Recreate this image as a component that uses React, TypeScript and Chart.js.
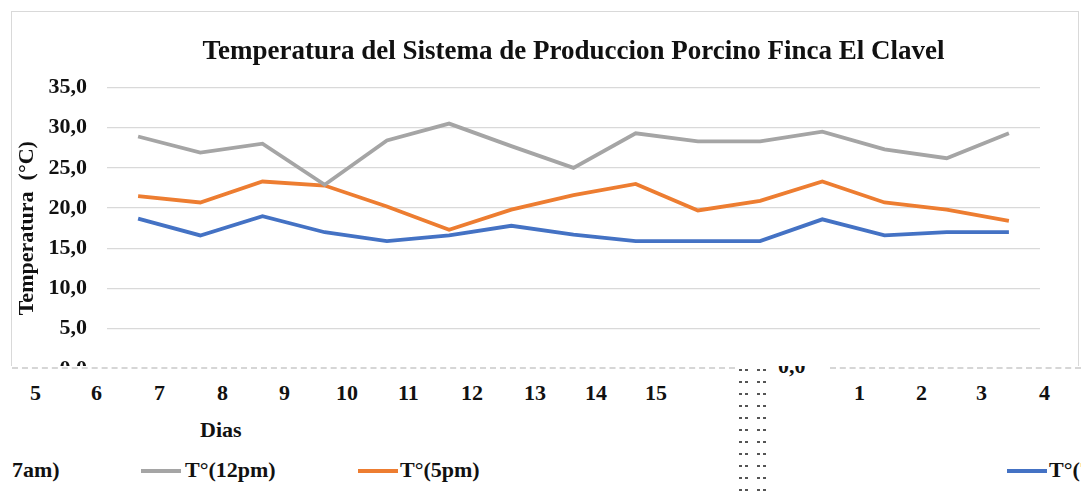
import React, { useEffect, useRef } from "react";
import { Chart, registerables } from "chart.js";

Chart.register(...registerables);

// ---- data ----
const days = ["1", "2", "3", "4", "5", "6", "7", "8", "9", "10", "11", "12", "13", "14", "15"];
const t7am = [18.7, 16.6, 19.0, 17.0, 15.9, 16.6, 17.8, 16.7, 15.9, 15.9, 15.9, 18.6, 16.6, 17.0, 17.0];
const t12pm = [28.9, 26.9, 28.0, 22.9, 28.4, 30.5, 27.7, 25.0, 29.3, 28.3, 28.3, 29.5, 27.3, 26.2, 29.3];
const t5pm = [21.5, 20.7, 23.3, 22.8, 20.2, 17.3, 19.8, 21.6, 23.0, 19.7, 20.9, 23.3, 20.7, 19.8, 18.4];
const yMin = 0;
const yMax = 35;
const yStep = 5;
const seriesNames = ["T°(7am)", "T°(12pm)", "T°(5pm)"];
const seriesColors = ["#4472C4", "#A5A5A5", "#ED7D31"];
// the reference's bottom strip is wrapped: days 5..15 on the left, 1..4 on the right
const wrappedLeftDays = days.slice(4);
const wrappedRightDays = days.slice(0, 4);

const SERIF = '"Liberation Serif", "Times New Roman", serif';

export default function App() {
  const canvasRef = useRef<HTMLCanvasElement | null>(null);

  useEffect(() => {
    document.body.style.margin = "0";
    const canvas = canvasRef.current;
    if (!canvas) return;
    const chart = new Chart(canvas, {
      type: "line",
      data: {
        labels: days,
        datasets: [
          { label: seriesNames[0], data: t7am, borderColor: seriesColors[0], backgroundColor: seriesColors[0] },
          { label: seriesNames[1], data: t12pm, borderColor: seriesColors[1], backgroundColor: seriesColors[1] },
          { label: seriesNames[2], data: t5pm, borderColor: seriesColors[2], backgroundColor: seriesColors[2] },
        ].map((d) => ({ ...d, borderWidth: 3.8, pointRadius: 0, tension: 0, fill: false })),
      },
      options: {
        animation: false,
        responsive: true,
        maintainAspectRatio: false,
        layout: { padding: { left: 12, top: 12, right: 41, bottom: 125 } },
        plugins: {
          legend: { display: false },
          tooltip: { enabled: false },
          title: {
            display: true,
            fullSize: false,
            text: "Temperatura del Sistema de Produccion Porcino Finca El Clavel",
            color: "#111",
            font: { family: SERIF, size: 27, weight: "bold", lineHeight: 1.2 },
            padding: { top: 24, bottom: 19 },
          },
        },
        scales: {
          x: {
            type: "category",
            offset: true,
            grid: { display: false },
            border: { display: false },
            ticks: { display: false },
          },
          y: {
            min: yMin,
            max: yMax,
            afterFit: (s: any) => {
              s.width = 95;
            },
            ticks: {
              stepSize: yStep,
              padding: 20,
              color: "#111",
              font: { family: SERIF, size: 22, weight: "bold" },
              callback: (v: any) => Number(v).toFixed(1).replace(".", ","),
            },
            grid: { color: "#d9d9d9", lineWidth: 1.3, drawTicks: false },
            border: { display: false },
            title: {
              display: true,
              text: "Temperatura  (°C)",
              color: "#111",
              font: { family: SERIF, size: 22, weight: "bold", lineHeight: 1.2 },
              padding: { top: 2, bottom: 0 },
            },
          },
        },
      },
    });
    return () => chart.destroy();
  }, []);

  const txt: React.CSSProperties = {
    position: "absolute",
    fontFamily: SERIF,
    fontWeight: "bold",
    fontSize: 22,
    color: "#111",
    lineHeight: "24px",
    whiteSpace: "nowrap",
  };
  const leftXs = [30, 91, 154, 217, 279, 336, 398, 461, 524, 585, 645];
  const rightXs = [854, 916, 976, 1039];
  const dashRows = Array.from({ length: 11 }, (_, i) => i);

  return (
    <div style={{ position: "relative", width: 1081, height: 502, background: "#fff", overflow: "hidden" }}>
      <div
        style={{
          position: "absolute",
          left: 11,
          top: 11,
          width: 1066,
          height: 380,
          border: "1.5px solid #d9d9d9",
        }}
      />
      <div style={{ position: "absolute", left: 0, top: 0, width: 1081, height: 502 }}>
        <canvas ref={canvasRef} />
      </div>
      {/* wrapped / cut bottom strip as in the reference */}
      <div
        style={{
          position: "absolute",
          left: 0,
          top: 366,
          width: 1081,
          height: 136,
          background: "#fff",
        }}
      >
        <div style={{ position: "absolute", left: 12, top: 1, width: 723, borderTop: "2px dashed #d6d6d6" }} />
        <div style={{ position: "absolute", left: 830, top: 1, width: 251, borderTop: "2px dashed #d6d6d6" }} />
        {dashRows.map((r) => (
          <React.Fragment key={"d" + r}>
            <div style={{ position: "absolute", left: 739, top: 3 + r * 12, width: 3, height: 1.5, background: "#555" }} />
            <div style={{ position: "absolute", left: 745, top: 3 + r * 12, width: 3, height: 1.5, background: "#555" }} />
            <div style={{ position: "absolute", left: 757, top: 3 + r * 12, width: 3, height: 1.5, background: "#555" }} />
            <div style={{ position: "absolute", left: 763, top: 3 + r * 12, width: 3, height: 1.5, background: "#555" }} />
          </React.Fragment>
        ))}
        <div style={{ position: "absolute", left: 776, top: 0, width: 40, height: 11, overflow: "hidden" }}>
          <div style={{ ...txt, left: 2, top: -12 }}>0,0</div>
        </div>
        {wrappedLeftDays.map((d, i) => (
          <div key={"l" + d} style={{ ...txt, left: leftXs[i], top: 15 }}>
            {d}
          </div>
        ))}
        {wrappedRightDays.map((d, i) => (
          <div key={"r" + d} style={{ ...txt, left: rightXs[i], top: 15 }}>
            {d}
          </div>
        ))}
        <div style={{ ...txt, left: 200, top: 52 }}>Dias</div>
        {/* legend (cut like the reference) */}
        <div style={{ ...txt, left: 12, top: 92 }}>7am)</div>
        <div style={{ position: "absolute", left: 141, top: 103, width: 40, height: 3.5, background: seriesColors[1] }} />
        <div style={{ ...txt, left: 185, top: 92 }}>{seriesNames[1]}</div>
        <div style={{ position: "absolute", left: 358, top: 103, width: 40, height: 3.5, background: seriesColors[2] }} />
        <div style={{ ...txt, left: 400, top: 92 }}>{seriesNames[2]}</div>
        <div style={{ position: "absolute", left: 1007, top: 103, width: 40, height: 3.5, background: seriesColors[0] }} />
        <div style={{ ...txt, left: 1049, top: 92 }}>{seriesNames[0]}</div>
      </div>
    </div>
  );
}
